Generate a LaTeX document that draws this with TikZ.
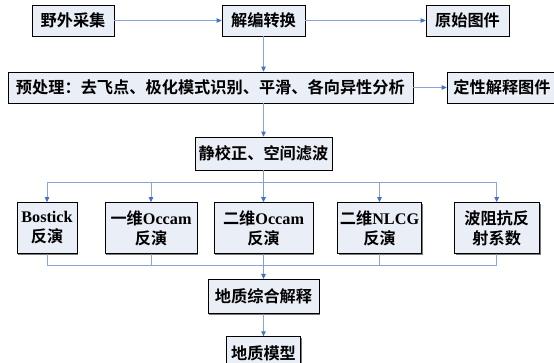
\documentclass[tikz,border=0pt]{standalone}
\usepackage{fontspec}
\setmainfont{Liberation Serif}
\newfontfamily\cjk{Noto Sans CJK SC Black}
\usetikzlibrary{arrows.meta,shadows}
\newcommand\zh[1]{{\cjk #1}}
\definecolor{boxfill}{RGB}{233,238,247}
\definecolor{linec}{RGB}{135,165,218}
\definecolor{arrc}{RGB}{68,114,196}
\definecolor{shadowc}{RGB}{120,120,120}
\tikzset{
  box/.style={draw=black, line width=0.7pt, fill=boxfill, inner sep=0pt,
    align=center, font=\fontsize{16.2}{20}\selectfont\bfseries,
    drop shadow={shadow xshift=1.4pt, shadow yshift=-1.4pt, fill=shadowc, opacity=1}},
  conn/.style={draw=linec, line width=1pt},
  arr/.style={conn, -{Triangle[length=5pt,width=4.5pt,color=arrc]}},
  thick conn/.style={conn, line width=1.4pt, draw=linec!85!arrc}
}
\begin{document}
\begin{tikzpicture}[x=1pt,y=-1pt]
\useasboundingbox (0,0) rectangle (554,363);
% top row
\node[box, minimum width=82pt, minimum height=31pt] (A) at (73,20.5) {\zh{野外采集}};
\node[box, minimum width=83pt, minimum height=31pt] (B) at (263.5,20.5) {\zh{解编转换}};
\node[box, minimum width=83pt, minimum height=31pt] (C) at (467.5,20.5) {\zh{原始图件}};
% second row
\node[box, minimum width=405pt, minimum height=31pt] (D) at (210.4,87.5) {\zh{预处理：去飞点、极化模式识别、平滑、各向异性分析}};
\node[box, minimum width=110pt, minimum height=31pt] (E) at (502,87.5) {\zh{定性解释图件}};
% third
\node[box, minimum width=137pt, minimum height=33pt] (F) at (263.5,153.5) {\zh{静校正、空间滤波}};
% inversion row
\node[box, minimum width=60pt, minimum height=51pt] (G1) at (47,228) {Bostick\\\zh{反演}};
\node[box, minimum width=92pt, minimum height=51pt] (G2) at (151,228) {\zh{一维}Occam\\\zh{反演}};
\node[box, minimum width=99pt, minimum height=51pt] (G3) at (263.5,228) {\zh{二维}Occam\\\zh{反演}};
\node[box, minimum width=84pt, minimum height=51pt] (G4) at (379.5,228) {\zh{二维}NLCG\\\zh{反演}};
\node[box, minimum width=85pt, minimum height=51pt] (G5) at (496.7,228) {\zh{波阻抗反}\\\zh{射系数}};
% bottom
\node[box, minimum width=111pt, minimum height=34pt] (H) at (263.5,296.3) {\zh{地质综合解释}};
\node[box, minimum width=74pt, minimum height=33pt] (I) at (263.5,353.2) {\zh{地质模型}};
% connectors
\draw[arr] (A.east) -- (B.west);
\draw[arr] (B.east) -- (C.west);
\draw[arr] (B.south) -- (B.south |- D.north);
\draw[arr] (D.east |- E.west) -- (E.west);
\draw[arr] (F.north |- D.south) -- (F.north);
\coordinate (b1) at (263.5,183);
\coordinate (b2) at (263.5,266);
\draw[thick conn] (F.south) -- (b1);
\foreach \g in {G1,G2,G4,G5} {
  \draw[arr] (b1) -| (\g.north);
  \draw[conn] (\g.south) |- (b2);
}
\draw[thick conn, -{Triangle[length=5pt,width=4.5pt,color=arrc]}] (b1) -- (G3.north);
\draw[thick conn] (G3.south) -- (b2);
\draw[thick conn, -{Triangle[length=5pt,width=4.5pt,color=arrc]}] (b2) -- (H.north);
\draw[arr] (H.south) -- (I.north);
\end{tikzpicture}
\end{document}
